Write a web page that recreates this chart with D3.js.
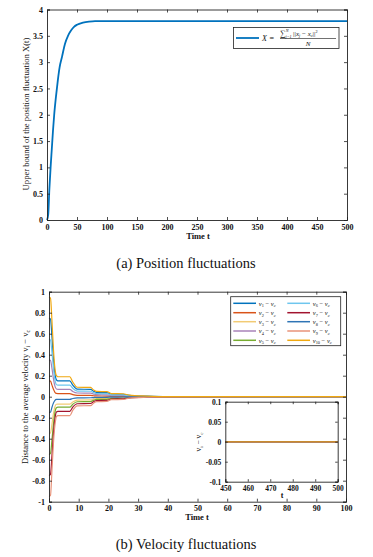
<!DOCTYPE html>
<html><head><meta charset="utf-8">
<script src="https://cdn.jsdelivr.net/npm/d3@7"></script>
<style>
html,body{margin:0;padding:0;background:#fff;}
svg{display:block;}
text{font-family:"Liberation Serif","Times New Roman",serif;fill:#111;}
</style></head>
<body>
<svg id="c" width="373" height="557"></svg>
<script>
// ---------- DATA ----------
// (a) position fluctuation upper bound
const posTime  = [0, 2, 4, 6, 8, 10, 12, 15, 18, 21, 25, 30, 35, 40, 45, 50, 60, 70, 80, 100, 200, 300, 400, 500];
const posValue = [0, 0.1, 0.6, 1.0, 1.35, 1.7, 2.0, 2.35, 2.65, 2.9, 3.1, 3.35, 3.5, 3.6, 3.67, 3.71, 3.75, 3.77, 3.78, 3.78, 3.78, 3.78, 3.78, 3.78];
const posXTicks = [0, 50, 100, 150, 200, 250, 300, 350, 400, 450, 500];
const posYTicks = [0, 0.5, 1, 1.5, 2, 2.5, 3, 3.5, 4];

// (b) velocity fluctuations
const velTime = [0, 0.5, 1, 1.5, 2, 2.5, 3, 7, 8, 9.5, 14, 15, 16, 19.5, 21, 25, 27, 33, 40, 100];
const v1  = [0.75, 0.74, 0.57, 0.36, 0.22, 0.16, 0.15, 0.15, 0.11, 0.072, 0.07, 0.052, 0.04, 0.038, 0.024, 0.022, 0.012, 0.005, 0.001, 0];
const v2  = [0.15, 0.148, 0.11, 0.07, 0.042, 0.031, 0.03, 0.03, 0.02, 0.013, 0.012, 0.009, 0.007, 0.006, 0.004, 0.004, 0.002, 0.001, 0, 0];
const v3  = [-0.35, -0.345, -0.26, -0.16, -0.095, -0.072, -0.07, -0.07, -0.05, -0.032, -0.031, -0.023, -0.017, -0.016, -0.01, -0.009, -0.005, -0.002, 0, 0];
const v4  = [0.35, 0.345, 0.27, 0.17, 0.1, 0.073, 0.07, 0.07, 0.05, 0.035, 0.034, 0.025, 0.019, 0.018, 0.011, 0.01, 0.006, 0.002, 0, 0];
const v5  = [-0.55, -0.54, -0.41, -0.26, -0.15, -0.105, -0.1, -0.1, -0.072, -0.048, -0.046, -0.035, -0.026, -0.025, -0.016, -0.015, -0.008, -0.003, -0.001, 0];
const v6  = [0.55, 0.54, 0.42, 0.27, 0.16, 0.115, 0.11, 0.11, 0.08, 0.054, 0.052, 0.039, 0.03, 0.029, 0.018, 0.017, 0.009, 0.004, 0.001, 0];
const v7  = [-0.75, -0.74, -0.56, -0.35, -0.21, -0.145, -0.14, -0.14, -0.1, -0.067, -0.065, -0.048, -0.036, -0.035, -0.022, -0.02, -0.011, -0.004, -0.001, 0];
const v8  = [-0.15, -0.148, -0.1, -0.06, -0.035, -0.026, -0.025, -0.025, -0.017, -0.011, -0.01, -0.008, -0.006, -0.006, -0.004, -0.003, -0.002, -0.001, 0, 0];
const v9  = [-0.95, -0.94, -0.7, -0.44, -0.27, -0.19, -0.18, -0.18, -0.13, -0.087, -0.085, -0.062, -0.047, -0.045, -0.028, -0.026, -0.014, -0.005, -0.001, 0];
const v10 = [0.95, 0.94, 0.72, 0.45, 0.27, 0.2, 0.19, 0.19, 0.14, 0.09, 0.088, 0.065, 0.05, 0.048, 0.03, 0.028, 0.015, 0.006, 0.001, 0];
const velSeriesNames = ["1","2","3","4","5","6","7","8","9","10"];
const velColors = ["#0072BD","#D95319","#F2CB74","#A883B8","#77AC30","#6EC6EE","#A2142F","#2E74B5","#E8937A","#F0A810"];
const velXTicks = [0, 10, 20, 30, 40, 50, 60, 70, 80, 90, 100];
const velYTicks = [-1, -0.8, -0.6, -0.4, -0.2, 0, 0.2, 0.4, 0.6, 0.8, 1];

// inset (t = 450..500)
const insetTime  = [450, 500];
const insetValue = [0, 0];
const insetXTicks = [450, 460, 470, 480, 490, 500];
const insetYTicks = [-0.1, -0.05, 0, 0.05, 0.1];

// ---------- DRAW ----------
const svg = d3.select("#c");
const tickFmt = d => String(d);

function boxAxes(g, x, y, xt, yt, tl, fs, fw) {
  const [x0, x1] = x.range(), [y0, y1] = y.range();
  // bottom
  const ax = g.append("g").attr("transform", `translate(0,${y0})`)
    .call(d3.axisBottom(x).tickValues(xt).tickSize(-tl).tickPadding(4).tickFormat(tickFmt));
  const ax2 = g.append("g").attr("transform", `translate(0,${y1})`)
    .call(d3.axisTop(x).tickValues(xt).tickSize(-tl).tickFormat(""));
  const ay = g.append("g").attr("transform", `translate(${x0},0)`)
    .call(d3.axisLeft(y).tickValues(yt).tickSize(-tl).tickPadding(4).tickFormat(tickFmt));
  const ay2 = g.append("g").attr("transform", `translate(${x1},0)`)
    .call(d3.axisRight(y).tickValues(yt).tickSize(-tl).tickFormat(""));
  [ax, ax2, ay, ay2].forEach(a => {
    a.select(".domain").attr("stroke", "#222").attr("stroke-width", 0.9);
    a.selectAll(".tick line").attr("stroke", "#222").attr("stroke-width", 0.8);
    a.selectAll("text").attr("font-family", "Liberation Serif, serif")
      .attr("font-size", fs).attr("font-weight", fw).attr("fill", "#111");
  });
}

// ===== (a) =====
const xA = d3.scaleLinear().domain([0, 500]).range([47, 347]);
const yA = d3.scaleLinear().domain([0, 4]).range([220, 9.5]);
const gA = svg.append("g");
gA.append("rect").attr("x", 47).attr("y", 9.5).attr("width", 300).attr("height", 210.5).attr("fill", "#fff");
gA.append("path")
  .datum(posTime.map((t, i) => [t, posValue[i]]))
  .attr("fill", "none").attr("stroke", "#0072BD").attr("stroke-width", 1.8)
  .attr("d", d3.line().x(d => xA(d[0])).y(d => yA(d[1])).curve(d3.curveMonotoneX));
boxAxes(gA, xA, yA, posXTicks, posYTicks, 3, "8px", "bold");

gA.append("text").attr("x", 198).attr("y", 238.5).attr("text-anchor", "middle")
  .attr("font-size", "8.5px").attr("font-weight", "bold").text("Time t");
gA.append("text").attr("transform", "translate(29,114) rotate(-90)").attr("text-anchor", "middle")
  .attr("font-size", "8.6px").text("Upper bound of the position fluctuation X(t)");

// legend (a)
const lA = gA.append("g");
lA.append("rect").attr("x", 233.5).attr("y", 27.5).attr("width", 105.5).attr("height", 21)
  .attr("fill", "#fff").attr("stroke", "#222").attr("stroke-width", 0.8);
lA.append("line").attr("x1", 236).attr("x2", 259).attr("y1", 38).attr("y2", 38)
  .attr("stroke", "#0072BD").attr("stroke-width", 1.8);
lA.append("text").attr("x", 262).attr("y", 40.5).attr("font-size", "8px").attr("font-style", "italic").text("X");
lA.append("text").attr("x", 269.5).attr("y", 40.5).attr("font-size", "8px").text("=");
const num = lA.append("text").attr("x", 280).attr("y", 35.5).attr("font-size", "7px");
num.append("tspan").attr("font-size", "8px").text("∑");
num.append("tspan").attr("font-size", "4.2px").attr("font-style", "italic").attr("dy", -3.5).text("N");
num.append("tspan").attr("font-size", "4.2px").attr("font-style", "italic").attr("dx", -3).attr("dy", 5.5).text("j=1");
num.append("tspan").attr("dy", -2).attr("dx", 1.5).text("||");
num.append("tspan").attr("font-style", "italic").text("x");
num.append("tspan").attr("font-size", "4.2px").attr("font-style", "italic").attr("dy", 1.5).text("j");
num.append("tspan").attr("dy", -1.5).text(" − ");
num.append("tspan").attr("font-style", "italic").text("x");
num.append("tspan").attr("font-size", "4.2px").attr("font-style", "italic").attr("dy", 1.5).text("c");
num.append("tspan").attr("dy", -1.5).text("||");
num.append("tspan").attr("font-size", "4.2px").attr("dy", -3).text("2");
lA.append("line").attr("x1", 280).attr("x2", 336).attr("y1", 38.5).attr("y2", 38.5)
  .attr("stroke", "#111").attr("stroke-width", 0.6);
lA.append("text").attr("x", 308).attr("y", 46.3).attr("text-anchor", "middle")
  .attr("font-size", "7px").attr("font-style", "italic").text("N");

svg.append("text").attr("x", 186).attr("y", 267.5).attr("text-anchor", "middle")
  .attr("font-size", "14.5px").text("(a) Position fluctuations");

// ===== (b) =====
const xB = d3.scaleLinear().domain([0, 100]).range([49, 346]);
const yB = d3.scaleLinear().domain([-1, 1]).range([501.7, 291.7]);
const gB = svg.append("g");
const velData = [v1, v2, v3, v4, v5, v6, v7, v8, v9, v10];
const lineB = d3.line().x(d => xB(d[0])).y(d => yB(d[1])).curve(d3.curveMonotoneX);
velData.forEach((vals, i) => {
  gB.append("path").datum(velTime.map((t, k) => [t, vals[k]]))
    .attr("fill", "none").attr("stroke", velColors[i]).attr("stroke-width", 1.2)
    .attr("d", lineB);
});
boxAxes(gB, xB, yB, velXTicks, velYTicks, 3, "8px", "bold");

gB.append("text").attr("x", 197).attr("y", 520).attr("text-anchor", "middle")
  .attr("font-size", "8.5px").attr("font-weight", "bold").text("Time t");
const ylB = gB.append("text").attr("transform", "translate(28,397) rotate(-90)").attr("text-anchor", "middle")
  .attr("font-size", "8.6px");
ylB.append("tspan").text("Distance to the average velocity v");
ylB.append("tspan").attr("font-size", "5.5px").attr("dy", 2).text("i");
ylB.append("tspan").attr("dy", -2).text(" − v");
ylB.append("tspan").attr("font-size", "5.5px").attr("dy", 2).text("c");

// legend (b)
const lB = gB.append("g");
lB.append("rect").attr("x", 230.7).attr("y", 296.7).attr("width", 110).attr("height", 49)
  .attr("fill", "#fff").attr("stroke", "#222").attr("stroke-width", 0.8);
const rowY = [303.3, 312.7, 321.7, 331, 340.3];
velSeriesNames.forEach((n, i) => {
  const col = i < 5 ? 0 : 1, row = i % 5;
  const lx = col === 0 ? 233.3 : 287.3;
  lB.append("line").attr("x1", lx).attr("x2", lx + 22.7).attr("y1", rowY[row]).attr("y2", rowY[row])
    .attr("stroke", velColors[i]).attr("stroke-width", 1.5);
  const t = lB.append("text").attr("x", lx + 25.5).attr("y", rowY[row] + 2.3).attr("font-size", "6.5px");
  t.append("tspan").attr("font-style", "italic").text("v");
  t.append("tspan").attr("font-size", "4.3px").attr("dy", 1.5).text(n);
  t.append("tspan").attr("dy", -1.5).text(" − ");
  t.append("tspan").attr("font-style", "italic").text("v");
  t.append("tspan").attr("font-size", "4.3px").attr("font-style", "italic").attr("dy", 1.5).text("c");
});

// inset
const xI = d3.scaleLinear().domain([450, 500]).range([225.3, 337.7]);
const yI = d3.scaleLinear().domain([-0.1, 0.1]).range([481.7, 401.7]);
const gI = svg.append("g");
gI.append("rect").attr("x", 225.3).attr("y", 401.7).attr("width", 112.4).attr("height", 80).attr("fill", "#fff");
velColors.forEach((c, i) => {
  gI.append("path").datum(insetTime.map((t, k) => [t, insetValue[k]]))
    .attr("fill", "none").attr("stroke", i === 9 ? "#C98B2E" : c).attr("stroke-width", 1.5)
    .attr("d", d3.line().x(d => xI(d[0])).y(d => yI(d[1])));
});
boxAxes(gI, xI, yI, insetXTicks, insetYTicks, 2.5, "7.5px", "bold");
gI.append("text").attr("x", 282).attr("y", 498).attr("text-anchor", "middle")
  .attr("font-size", "8px").attr("font-weight", "bold").text("t");
const ylI = gI.append("text").attr("transform", "translate(201,442) rotate(-90)").attr("text-anchor", "middle")
  .attr("font-size", "7.5px");
ylI.append("tspan").text("v");
ylI.append("tspan").attr("font-size", "5px").attr("dy", 1.5).text("i");
ylI.append("tspan").attr("dy", -1.5).text(" − v");
ylI.append("tspan").attr("font-size", "5px").attr("dy", 1.5).text("c");

svg.append("text").attr("x", 186).attr("y", 549).attr("text-anchor", "middle")
  .attr("font-size", "14.5px").text("(b) Velocity fluctuations");
</script>
</body></html>
